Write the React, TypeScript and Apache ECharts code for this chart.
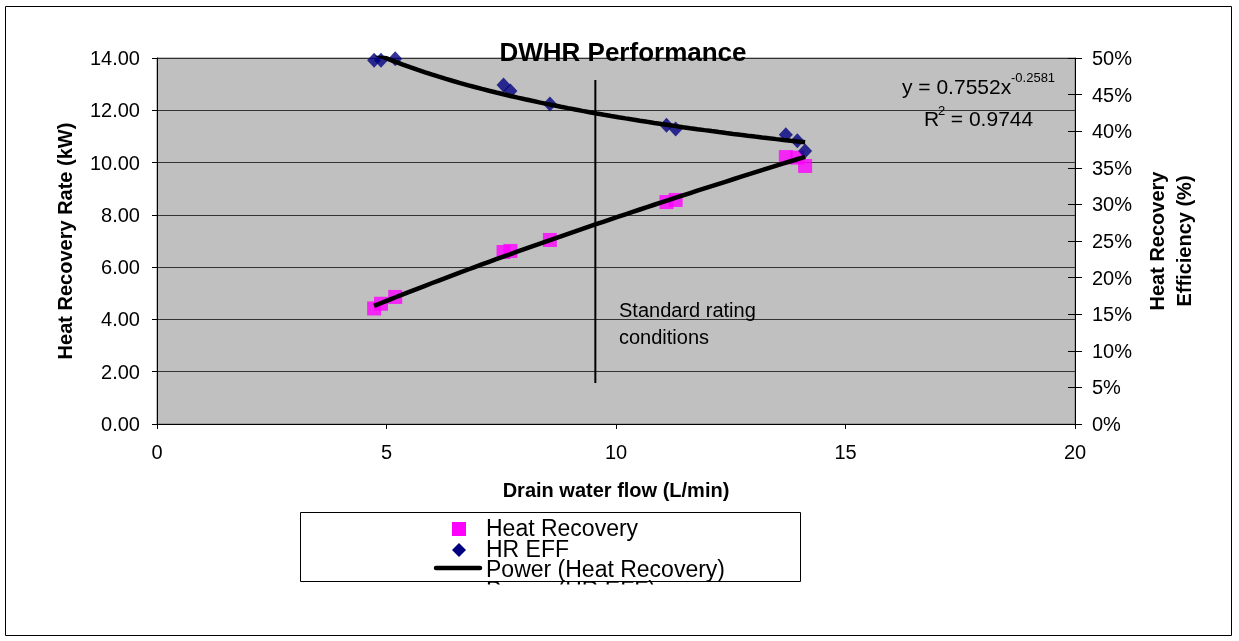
import React, { useEffect, useRef } from "react";
import * as echarts from "echarts";

// Drain water flow (L/min) for each test
const flow = [4.73, 4.88, 5.19, 7.55, 7.7, 8.56, 11.1, 11.3, 13.7, 13.95, 14.12];
// Heat recovery rate (kW)
const heatRecovery = [4.42, 4.6, 4.86, 6.58, 6.62, 7.04, 8.49, 8.57, 10.21, 10.19, 9.87];
// Heat recovery efficiency (fraction)
const hrEff = [0.497, 0.497, 0.499, 0.463, 0.455, 0.437, 0.408, 0.403, 0.395, 0.387, 0.373];

// Standard rating condition flow and vertical extent (kW)
const ratingFlow = 9.55;
const ratingLine = [1.57, 13.16];

const FONT = "'Liberation Sans', Arial, sans-serif";

function powerFit(xs: number[], ys: number[]) {
  const n = xs.length;
  let sx = 0, sy = 0, sxx = 0, sxy = 0;
  for (let i = 0; i < n; i++) {
    const lx = Math.log(xs[i]);
    const ly = Math.log(ys[i]);
    sx += lx; sy += ly; sxx += lx * lx; sxy += lx * ly;
  }
  const b = (n * sxy - sx * sy) / (n * sxx - sx * sx);
  const a = Math.exp((sy - b * sx) / n);
  return { a, b };
}

function trend(xs: number[], ys: number[]) {
  const { a, b } = powerFit(xs, ys);
  const lo = Math.min(...xs);
  const hi = Math.max(...xs);
  const pts: number[][] = [];
  const steps = 60;
  for (let i = 0; i <= steps; i++) {
    const x = lo + ((hi - lo) * i) / steps;
    pts.push([x, a * Math.pow(x, b)]);
  }
  return pts;
}

export default function App() {
  const ref = useRef<HTMLDivElement>(null);
  useEffect(() => {
    document.body.style.margin = "0";
    const chart = echarts.init(ref.current!, null, { renderer: "svg" });
    const hrPts = flow.map((x, i) => [x, heatRecovery[i]]);
    const effPts = flow.map((x, i) => [x, hrEff[i]]);
    const txt = (text: string, x: number, y: number, size: number, extra: any = {}) => ({
      type: "text",
      z: 100,
      x,
      y,
      style: {
        text,
        fill: "#000",
        font: `${extra.bold ? "bold " : ""}${size}px ${FONT}`,
        textAlign: extra.align || "left",
        textVerticalAlign: "middle",
        lineHeight: extra.lineHeight,
      },
    });
    chart.setOption({
      animation: false,
      textStyle: { fontFamily: FONT },
      grid: {
        left: 157,
        top: 58,
        right: 164,
        bottom: 217,
        show: true,
        backgroundColor: "#c0c0c0",
        borderColor: "#808080",
        borderWidth: 1,
      },
      xAxis: {
        type: "value",
        min: 0,
        max: 20,
        interval: 5,
        name: "Drain water flow (L/min)",
        nameLocation: "middle",
        nameGap: 56,
        nameTextStyle: { fontSize: 20, fontWeight: "bold", color: "#000", fontFamily: FONT },
        axisLine: { show: true, lineStyle: { color: "#000", width: 1 } },
        axisTick: { show: true, length: 5, lineStyle: { color: "#000" } },
        axisLabel: { fontSize: 20, color: "#000", margin: 18, fontFamily: FONT },
        splitLine: { show: false },
      },
      yAxis: [
        {
          type: "value",
          min: 0,
          max: 14,
          interval: 2,
          position: "left",
          name: "Heat Recovery Rate (kW)",
          nameLocation: "middle",
          nameGap: 82,
          nameTextStyle: { fontSize: 20, fontWeight: "bold", color: "#000", fontFamily: FONT },
          axisLine: { show: true, lineStyle: { color: "#000", width: 1 } },
          axisTick: { show: true, length: 5, lineStyle: { color: "#000" } },
          axisLabel: {
            fontSize: 20,
            color: "#000",
            margin: 17,
            fontFamily: FONT,
            formatter: (v: number) => v.toFixed(2),
          },
          splitLine: { show: true, lineStyle: { color: "#333", width: 1 } },
        },
        {
          type: "value",
          min: 0,
          max: 0.5,
          interval: 0.05,
          position: "right",
          name: "Heat Recovery\nEfficiency (%)",
          nameLocation: "middle",
          nameGap: 68,
          nameRotate: 90,
          nameTextStyle: {
            fontSize: 20,
            fontWeight: "bold",
            color: "#000",
            fontFamily: FONT,
            lineHeight: 27,
            align: "center",
          },
          axisLine: { show: true, lineStyle: { color: "#000", width: 1 } },
          axisTick: { show: true, length: 7, lineStyle: { color: "#000" } },
          axisLabel: {
            fontSize: 20,
            color: "#000",
            margin: 17,
            fontFamily: FONT,
            formatter: (v: number) => Math.round(v * 100) + "%",
          },
          splitLine: { show: false },
        },
        {
          type: "value",
          min: 0,
          max: 0.5,
          interval: 0.05,
          position: "right",
          axisLine: { show: false },
          axisTick: { show: true, inside: true, length: 7, lineStyle: { color: "#000" } },
          axisLabel: { show: false },
          splitLine: { show: false },
        },
      ],
      series: [
        {
          name: "Standard rating conditions",
          type: "line",
          data: [[ratingFlow, ratingLine[0]], [ratingFlow, ratingLine[1]]],
          showSymbol: false,
          symbol: "none",
          lineStyle: { color: "#000", width: 2 },
          z: 2,
        },
        {
          name: "Heat Recovery",
          type: "scatter",
          data: hrPts,
          symbol: "rect",
          symbolSize: 14,
          itemStyle: { color: "#ff00ff" },
          z: 3,
        },
        {
          name: "HR EFF",
          type: "scatter",
          yAxisIndex: 1,
          data: effPts,
          symbol: "diamond",
          symbolSize: [14, 15],
          itemStyle: { color: "#000080" },
          z: 3,
        },
        {
          name: "Power (Heat Recovery)",
          type: "line",
          data: trend(flow, heatRecovery),
          showSymbol: false,
          symbol: "none",
          lineStyle: { color: "#000", width: 4.5 },
          z: 4,
        },
        {
          name: "Power (HR EFF)",
          type: "line",
          yAxisIndex: 1,
          data: trend(flow, hrEff),
          showSymbol: false,
          symbol: "none",
          lineStyle: { color: "#000", width: 4.5 },
          z: 4,
        },
      ],
      graphic: [
        {
          type: "rect",
          z: 90,
          shape: { x: 5.5, y: 6.5, width: 1226, height: 629 },
          style: { fill: "none", stroke: "#000", lineWidth: 1 },
        },
        txt("DWHR Performance", 623, 52, 26, { bold: true, align: "center" }),
        txt("Standard rating\nconditions", 619, 323.5, 20, { lineHeight: 27 }),
        txt("y = 0.7552x", 902, 86, 21),
        txt("-0.2581", 1011, 77, 13),
        txt("R", 924, 118, 21),
        txt("2", 938, 110, 13),
        txt(" = 0.9744", 945, 118, 21),
        {
          type: "rect",
          z: 95,
          shape: { x: 300.5, y: 512.5, width: 500, height: 69 },
          style: { fill: "#fff", stroke: "#000", lineWidth: 1 },
        },
        {
          type: "rect",
          z: 100,
          shape: { x: 452, y: 522, width: 14, height: 14 },
          style: { fill: "#ff00ff" },
        },
        {
          type: "polygon",
          z: 100,
          shape: { points: [[459, 543], [466, 550], [459, 557], [452, 550]] },
          style: { fill: "#000080" },
        },
        {
          type: "line",
          z: 100,
          shape: { x1: 436, y1: 568, x2: 480, y2: 568 },
          style: { stroke: "#000", lineWidth: 4.5, lineCap: "round" },
        },
        txt("Heat Recovery", 486, 528, 23),
        txt("HR EFF", 486, 549, 23),
        txt("Power (Heat Recovery)", 486, 569, 23),
        txt("Power (HR EFF)", 486, 590, 23),
        {
          type: "rect",
          z: 101,
          shape: { x: 296, y: 584.5, width: 512, height: 40 },
          style: { fill: "#fff" },
        },
      ],
    });
    return () => chart.dispose();
  }, []);
  return (
    <div
      ref={ref}
      style={{ position: "fixed", left: 0, top: 0, width: 1239, height: 641 }}
    />
  );
}
